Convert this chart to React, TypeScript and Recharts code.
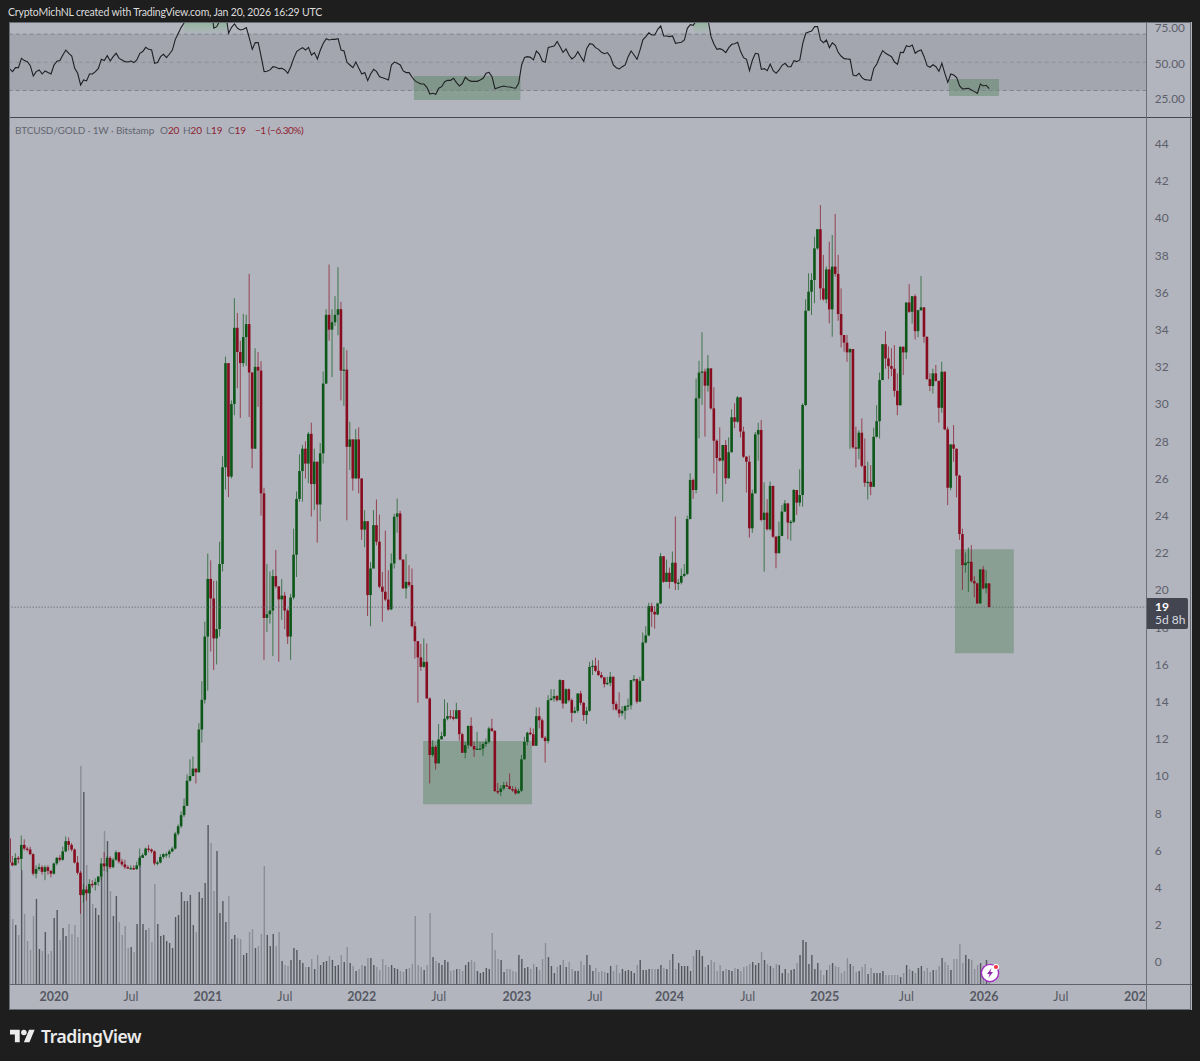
import React from "react";
import { ComposedChart, Bar, Line, XAxis, YAxis, ReferenceArea, ReferenceLine } from "recharts";

const firstOpen = 6.65;
const closes = [
5.35,5.2,5.6,5.55,6.3,6.1,6.05,5.8,4.75,5.0,
5.1,4.85,5.1,4.9,4.75,5.3,5.6,5.5,5.95,6.5,
6.3,6.05,5.35,4.8,3.6,3.9,3.7,4.2,4.15,4.3,
4.6,5.3,5.15,5.6,5.1,5.5,5.9,5.4,5.25,5.1,
5.05,5.05,5.0,5.2,5.6,5.75,6.1,6.05,5.95,5.3,
5.35,5.65,5.8,5.8,5.95,6.1,6.9,7.3,7.9,8.4,
9.75,10.0,10.4,10.2,12.5,14.1,17.5,20.6,19.55,17.4,
17.9,21.4,26.6,32.2,26.1,30.0,34.1,32.8,32.2,33.6,
34.3,31.7,27.6,32.0,31.8,25.2,18.5,18.7,18.9,20.75,
20.2,19.5,19.7,18.9,17.5,19.6,21.9,24.9,26.4,27.6,
26.8,28.4,25.7,26.9,24.6,27.35,31.1,34.8,34.0,34.4,
34.8,35.1,31.8,31.85,27.7,28.1,26.0,28.1,26.0,23.25,
23.7,19.73,21.16,23.49,22.6,20.18,19.91,19.49,18.96,21.43,
23.94,24.12,21.64,20.09,20.44,20.27,18.06,17.25,16.38,15.87,
16.14,14.17,11.13,11.57,10.68,11.97,12.15,13.08,13.22,13.18,
13.08,13.54,12.25,11.25,11.66,12.7,11.61,11.43,11.47,11.48,
11.72,11.84,12.56,12.43,9.19,9.15,9.33,9.51,9.46,9.3,
9.28,9.07,9.21,10.9,11.84,12.33,12.25,11.63,13.22,13.0,
12.06,11.88,14.08,14.17,14.3,14.08,15.16,13.9,14.67,14.08,
13.4,13.51,14.44,13.94,13.28,13.51,15.87,15.93,15.66,15.43,
15.3,14.94,15.01,15.34,13.87,13.58,13.37,13.51,13.76,13.8,
15.16,15.21,14.0,15.12,17.18,17.56,19.14,18.83,18.69,19.28,
21.82,20.44,20.93,20.44,21.47,20.36,20.4,20.76,20.87,23.82,
25.92,25.38,30.31,31.69,31.75,30.99,31.92,29.77,28.03,27.1,
26.96,27.8,26.01,27.41,29.29,29.05,30.36,28.52,27.17,26.9,
23.32,25.2,28.37,28.61,23.77,24.16,23.27,25.6,22.87,21.98,
22.91,24.22,24.66,23.63,23.67,25.38,24.7,25.11,29.95,35.02,
36.04,36.67,38.37,39.4,36.22,35.63,37.24,35.09,37.39,37.0,
34.84,33.71,33.3,32.78,32.96,27.67,27.6,28.46,26.68,25.77,
25.82,25.55,28.24,29.08,31.29,33.22,32.45,32.04,31.9,30.71,
29.94,33.08,32.78,35.46,34.96,35.8,33.92,35.05,35.2,33.62,
31.34,30.97,31.65,31.25,29.8,31.74,28.64,25.5,27.83,27.6,
26.15,23.01,21.34,21.47,21.52,20.48,20.36,19.28,21.11,20.09,
20.36,19.08];
const highs = [
6.7,5.7,5.85,5.7,6.8,6.6,6.2,6.2,5.85,5.2,
5.3,5.2,5.2,5.2,4.95,5.35,5.65,5.75,6.2,6.75,
6.7,6.4,6.1,5.7,4.9,4.2,4.1,4.45,4.4,4.5,
4.6,5.6,5.9,5.7,5.7,5.6,6.0,5.9,5.55,5.5,
5.2,5.2,5.2,5.4,6.1,5.85,6.15,6.3,6.1,6.0,
5.45,5.8,5.85,5.9,6.05,6.2,7.0,7.4,8.1,8.8,
10.1,10.9,11.05,10.4,12.85,15.1,18.3,21.96,21.6,20.5,
20.5,22.6,27.2,32.55,32.2,30.2,35.7,34.9,33.4,34.85,
34.8,37.0,31.7,33,32.8,32.3,25.5,21.4,21,21.1,
22.15,20.2,20.6,19.9,19,19.8,23.3,25.3,27.3,27.8,
28,28.5,29,27.6,26.9,27.9,31.75,35.1,37.5,35.1,
35.8,37.35,35.5,33.05,32.9,29.05,28.1,28.65,28.75,26.0,
24.3,23.7,21.5,24.3,24.87,24.06,20.98,23.2,21.07,21.97,
24.1,24.92,24.26,21.64,21.93,21.34,21.16,18.3,17.25,17.1,
17.4,17.13,14.23,11.93,11.66,12.8,12.38,14.13,13.94,13.55,
13.55,13.94,13.54,12.33,11.84,12.7,13.15,11.84,12.38,11.84,
11.84,12.02,12.65,13.08,12.47,9.63,9.51,9.69,9.69,10.14,
9.46,9.42,9.33,11.13,12.11,12.38,12.6,12.56,13.69,13.69,
13.1,12.15,14.35,14.67,14.67,14.35,15.21,15.16,14.71,14.71,
14.17,13.72,14.44,14.58,13.99,13.72,16.14,16.23,16.36,16.23,
15.6,15.34,15.34,15.6,15.34,14.0,14.5,13.76,13.81,14.17,
15.16,15.43,15.25,15.34,17.72,18.06,19.32,19.32,19.14,19.32,
22.0,21.82,21.64,21.21,22.07,23.95,20.6,21.16,21.4,24,
26.28,26.0,31.38,32.33,33.86,31.9,32.64,31.92,30.9,28.1,
28.75,27.8,28.07,28.2,29.72,30.04,30.43,30.36,28.79,27.2,
27.23,25.4,28.5,29,29.14,25.79,24.88,25.83,25.6,22.9,
23.68,24.57,24.84,24.66,23.77,25.43,25.38,26.49,30.04,35.63,
37.03,37.03,39,39.4,40.7,38.02,37.4,38.73,39.09,40.22,
38.02,36.22,33.71,33.71,33,32.96,28.78,28.6,29.23,28.15,
26.9,26.72,28.73,29.94,31.7,33.22,33.92,33.1,33,33.17,
31.65,33.1,33.1,35.46,36.45,35.8,35.91,35.05,36.88,35.2,
33.62,31.66,31.9,32.1,31.25,32.27,31.74,28.78,27.83,28.87,
27.6,26.2,23.3,22.02,22.29,22.42,20.75,20.4,21.11,21.29,
21.07,20.25];
const lows = [
5.2,5.15,5.2,5.3,4.95,6.0,5.95,5.75,4.65,4.5,
4.9,4.7,4.4,4.7,4.55,4.7,5.2,5.4,5.45,5.9,
6.0,5.95,5.3,4.7,2.6,3.2,3.3,3.75,4.0,3.85,
4.1,4.4,4.9,4.85,5.0,5.05,5.45,5.3,5.15,5.0,
5.0,5.0,4.95,4.95,5.1,5.6,5.7,5.9,5.85,5.2,
5.2,5.3,5.55,5.6,5.6,5.9,6.05,6.8,7.2,7.8,
8.5,9.7,10.2,9.6,10.2,11.8,13.9,14.6,16.7,15.7,
16,17.5,21,25.4,25,26,29.4,30.85,29.25,32,
32.05,29.3,26.55,27.6,29.85,24,16.25,17.75,18.2,16.45,
20.1,16.15,18.4,17.9,17.1,16.25,19.5,20.7,24.75,24.75,
26,25.75,23.95,24.3,22.55,23.7,26.8,31.1,33.4,31.45,
34.2,33.7,30.2,29.9,23.75,26.45,25.35,26,25.2,22.7,
22.3,18.6,18.05,22.27,22.4,20.1,18.3,19.4,18.88,18.92,
21.16,23.08,21.6,20.08,19.55,20.17,18,16.32,13.94,15.65,
15.82,14.17,9.6,11.03,10.35,10.68,11.97,12.1,13,13.05,
13,13.08,11.9,11.25,10.95,11.48,11.57,11.03,11.43,11.43,
11.09,11.57,11.75,12.38,9.15,9.03,8.92,9.24,9.42,9.28,
9.15,9,9.12,9.15,10.95,11.66,12.2,11.63,11.63,12.56,
12.02,10.73,11.75,14.08,14,14,14.17,13.63,13.9,13.99,
12.9,13.36,13.4,13.81,12.97,12.8,13.46,15.43,15.6,15.39,
15.25,14.76,14.89,14.83,13.54,13.51,13.15,13.22,13.04,13.54,
13.58,15.07,13.9,13.99,15.16,17.13,17.52,18.02,17.93,18.65,
19.24,20.39,20.44,20.08,20.45,20,20,20.3,20.7,20.8,
23.8,24.9,25.2,28.16,29.95,28.25,30.67,29.7,26.28,25.17,
26.9,24.75,25.7,26,27.4,28.7,29,28.2,27.1,25.24,
22.82,23.08,25.2,26.96,23.7,20.99,23.2,23.2,22.8,21.17,
22.3,22.9,24.2,22.73,22.66,23.6,24.04,24.5,24.48,29.9,
35.02,34.79,35.42,38.3,35.6,35.56,35.42,34.34,33.62,36.85,
34.48,33.05,32.82,32.27,27.6,27.6,26.59,27.04,26.6,25.55,
24.87,25.1,25.55,28.2,28.15,31.29,31.9,31.34,31.5,30.4,
29.4,29.9,31.56,32.42,34.9,34.33,33.47,33.6,35,33.3,
31.3,30.7,30.57,31.2,29,29.53,28.6,24.57,25.37,26.9,
24.98,22.7,20,20.93,19.9,20.4,19.6,19.25,19.3,20.03,
19.82,19.08];
const volumes = [
114,65,59,49,114,70,43,34,68,85,
35,33,52,30,33,66,74,44,56,48,
60,50,59,47,218,192,119,98,80,76,
69,110,153,143,93,68,88,62,49,58,
36,37,32,60,128,60,54,56,42,100,
60,48,49,43,41,36,67,69,92,83,
83,89,59,52,92,86,101,159,141,93,
133,71,83,62,88,45,49,46,45,29,
31,52,55,36,38,
50,118,49,38,50,38,52,23,19,18,
24,36,34,24,21,17,17,25,15,29,
19,22,23,28,24,18,19,29,22,37,
21,18,13,15,19,18,26,26,19,17,
14,25,19,17,19,16,15,13,12,15,
16,20,68,19,17,14,19,71,27,23,
21,19,24,22,13,14,15,15,13,19,
22,24,22,13,11,12,16,15,51,34,
25,24,12,15,15,13,12,29,25,16,
17,15,20,17,14,25,41,27,18,11,
17,19,24,17,22,15,13,13,23,19,
29,19,13,16,12,13,12,11,18,13,
19,11,15,13,14,13,11,19,24,14,
14,15,15,15,15,19,16,15,24,30,
15,21,18,18,18,13,28,34,34,28,
17,19,24,22,13,19,13,15,14,13,
16,15,13,17,18,20,22,19,21,32,
24,20,18,16,20,19,11,15,11,14,
15,21,29,44,42,20,29,15,21,14,
9,14,19,21,18,17,11,13,26,20,
18,12,13,17,20,10,16,11,11,11,
13,9,9,9,9,9,7,11,19,15,
13,11,16,18,13,16,12,14,14,18,
26,22,19,14,25,25,40,21,29,25,
24,15,19,21,18,24,12];
const rsi = [
45.3,43.4,46.2,46.2,52.8,51.2,50.5,47.6,40.3,43.4,
44.6,41.7,43.9,42.7,41.7,48.1,50.7,51.2,55.2,58.7,
56.4,54.5,45.7,42.2,33.9,37.5,36.8,41.7,41.7,43.4,
45.7,52.1,51.2,54.7,50.9,54,56.4,52.8,51.7,50.5,
50.2,50.9,49.8,51.7,56.4,57.6,60.6,59.2,58.7,49.3,
49.8,54,55.7,53.3,55.9,58.7,66.3,70.6,74.8,78.1,
81,83,85,84,88,91,93,94,91,74.3,
75.3,79.5,83.6,84.8,70.6,74.8,77.2,74.1,72.9,73.4,
74.6,67.2,59.2,64,64,54,43.4,43.6,44.6,46.9,
46.5,45.5,45.7,44.6,42.2,46.9,52.8,57.6,59.2,60.4,
58.7,60.6,55.2,56.9,52.4,58.7,63.5,66.8,65.8,66.3,
66.3,66.8,58.7,58,50,48.1,46.2,50.2,45.7,41.7,
42.7,37,41.7,45,43.4,39.8,39.1,38.4,37.5,48.1,
50.2,49.3,48.1,43.9,42.7,42.7,39.4,36.8,35.6,34.6,
34.6,32.3,27.5,28,27.3,31.6,32.7,36.3,37.2,37.2,
38.7,35.6,33.2,35.1,39.4,37.5,36.5,36.5,36.5,37.5,
38.7,42.2,42.9,39.8,31.3,32,32.7,33.2,32.7,32.5,
32,31.6,35.1,48.1,53.5,54,53.5,51.7,58,55.9,
50.9,50,60.6,61.1,61.6,64.7,61.1,57.1,59.5,55.2,
52.4,54,57.6,54,50.7,59.9,63.2,62.8,60.4,59.2,
57.1,56.1,56.9,54,48.1,46.2,45.3,46.9,48.1,54,
58,55.2,52.1,58.7,66.1,68.2,71,69.4,69.4,73.4,
75.8,68.7,68.7,68.2,68.7,63.5,63.9,64.2,65.8,74.1,
76.7,76.2,79.6,82.4,82.9,82.4,80,68.2,62.8,59.2,
59.7,58.7,56.9,60.4,62.8,63.2,64.2,57.6,53.3,52.1,
44.1,51.7,56.4,55.9,45,45.5,44.1,48.8,44.1,42.2,
44.6,47.9,49.3,46.9,46.9,51.2,50.5,51.7,63.5,70.6,
71.5,72.2,75.3,75.3,65.8,63.9,65.8,60.4,63.9,62.1,
56.9,54.3,52.6,52.4,52.1,41,40.3,42.2,39.1,37.7,
37.5,37.2,45.7,48.8,54,58.3,56.4,55.2,54,50.2,
48.6,57.1,56.9,61.8,61.1,62.3,56.4,58,58.7,54,
47.6,46.5,48.3,46.9,43.6,49.3,42.2,35.8,41.7,41,
39.1,33.2,31.1,31.3,31.6,30.4,29.2,28,34.6,33.2,
33.7,31.3];

const timeTicks = [15, 41, 67, 93, 119, 145, 171.4, 197.8, 223, 249.4, 275.4, 303, 329.2, 355.2, 380.2];
const timeLabels = ["2020", "Jul", "2021", "Jul", "2022", "Jul", "2023", "Jul", "2024", "Jul", "2025", "Jul", "2026", "Jul", "202"];
const priceTicks = [0, 2, 4, 6, 8, 10, 12, 14, 16, 18, 20, 22, 24, 26, 28, 30, 32, 34, 36, 38, 40, 42, 44];
const rsiTicks = [25, 50, 75];
const lastPrice = 19.08;

const rows = closes.map((close, i) => {
  const open = i === 0 ? firstOpen : closes[i - 1];
  const high = Math.max(highs[i], open, close);
  const low = Math.min(lows[i], open, close);
  return { i, open, close, high, low, range: [low, high], volume: volumes[i] ?? 0, rsi: rsi[i] };
});

const UP = "#0c5718";
const DOWN = "#870c1f";
const FONT = 'Lato, "Noto Sans", sans-serif';
const XDOMAIN: [number, number] = [-0.2, 384.2];

function Candle(props: any) {
  const { x, y, width, height, payload } = props;
  if (!payload) return null;
  const cx = x + width / 2;
  const span = Math.max(payload.high - payload.low, 0.0001);
  const k = height / span;
  const yo = y + (payload.high - payload.open) * k;
  const yc = y + (payload.high - payload.close) * k;
  const up = payload.close >= payload.open;
  const color = up ? UP : DOWN;
  const top = Math.min(yo, yc);
  const h = Math.max(Math.abs(yo - yc), 1.3);
  return (
    <g>
      <line x1={cx} x2={cx} y1={y} y2={y + height} stroke={color} strokeWidth={1} opacity={0.68} />
      <rect x={cx - 1.3} y={top} width={2.6} height={h} fill={color} />
    </g>
  );
}

function VolumeBar(props: any) {
  const { x, y, width, height, payload } = props;
  if (!payload) return null;
  const up = payload.close >= payload.open;
  return <rect x={x} y={y} width={width} height={height} fill={up ? "#55575f" : "#8b8d97"} />;
}

function TimeTick(props: any) {
  const { x, y, index } = props;
  const label = timeLabels[index] ?? "";
  const bold = label !== "Jul";
  return (
    <text x={x} y={y + 9} textAnchor="middle" fontFamily={FONT} fontSize={12.5} fontWeight={bold ? 700 : 400} fill="#565963">
      {label}
    </text>
  );
}

const absText = (left: number, top: number, color: string, size = 10, spacing = -0.1): React.CSSProperties => ({
  position: "absolute",
  left,
  top,
  color,
  fontSize: size,
  lineHeight: "14px",
  letterSpacing: spacing,
  fontFamily: FONT,
  whiteSpace: "nowrap",
});

export default function App() {
  const legendGrey = "#62656f";
  const legendRed = "#8e2130";
  return (
    <div style={{ position: "absolute", left: 0, top: 0, width: 1200, height: 1061, background: "#1e1e1e", overflow: "hidden" }}>
      <div style={absText(8, 5, "#dcdcdc", 10.5, -0.18)}>CryptoMichNL created with TradingView.com, Jan 20, 2026 16:29 UTC</div>
      <div style={{ position: "absolute", left: 9, top: 22, width: 1182.7, height: 988, background: "#b2b5be" }} />

      <div style={{ position: "absolute", left: 9, top: 22 }}>
        <ComposedChart width={1182.7} height={95} data={rows} margin={{ top: 0, right: 0, bottom: 0, left: 0 }}>
          <defs>
            <linearGradient id="ob" x1="0" y1="0" x2="0" y2="1">
              <stop offset="0%" stopColor="#4caf50" stopOpacity={0.32} />
              <stop offset="100%" stopColor="#4caf50" stopOpacity={0} />
            </linearGradient>
          </defs>
          <XAxis dataKey="i" type="number" xAxisId="x" domain={XDOMAIN} hide allowDataOverflow />
          <YAxis yAxisId="r" orientation="right" width={45} domain={[11.2, 78.6]} ticks={rsiTicks} allowDataOverflow
            tickFormatter={(v: number) => v.toFixed(2)} tick={{ fill: "#5d606b", fontSize: 11.8, fontFamily: FONT, dy: 1 }}
            axisLine={false} tickLine={false} tickSize={0} tickMargin={8} interval={0} />
          <ReferenceArea xAxisId="x" yAxisId="r" y1={30} y2={70} fill="#a3a5af" fillOpacity={1} stroke="none" />
          <ReferenceArea xAxisId="x" yAxisId="r" x1={59} x2={73.8} y1={70} y2={78.6} fill="url(#ob)" fillOpacity={1} stroke="none" />
          <ReferenceArea xAxisId="x" yAxisId="r" x1={231} x2={236} y1={70} y2={78.6} fill="url(#ob)" fillOpacity={1} stroke="none" />
          <ReferenceLine xAxisId="x" yAxisId="r" y={70} stroke="#80838d" strokeDasharray="4 3" />
          <ReferenceLine xAxisId="x" yAxisId="r" y={50} stroke="#8f919b" strokeDasharray="4 3" />
          <ReferenceLine xAxisId="x" yAxisId="r" y={30} stroke="#80838d" strokeDasharray="4 3" />
          <ReferenceArea xAxisId="x" yAxisId="r" x1={136.6} x2={172.6} y1={23.3} y2={40.3} fill="#4c8054" fillOpacity={0.4} stroke="none" />
          <ReferenceArea xAxisId="x" yAxisId="r" x1={317.4} x2={334.3} y1={26.1} y2={38.2} fill="#4c8054" fillOpacity={0.4} stroke="none" />
          <Line xAxisId="x" yAxisId="r" dataKey="rsi" type="linear" dot={false} stroke="#1f2024" strokeWidth={1.1} isAnimationActive={false} />
        </ComposedChart>
      </div>

      <div style={{ position: "absolute", left: 9, top: 118 }}>
        <ComposedChart width={1182.7} height={892} data={rows} margin={{ top: 0, right: 0, bottom: 0, left: 0 }}>
          <XAxis dataKey="i" type="number" xAxisId="x" domain={XDOMAIN} ticks={timeTicks} interval={0} height={26} allowDataOverflow
            axisLine={false} tickLine={false} tick={<TimeTick />} />
          <XAxis dataKey="i" type="number" xAxisId="v" orientation="top" height={0} domain={XDOMAIN} hide allowDataOverflow />
          <YAxis yAxisId="p" orientation="right" width={45} domain={[-1.18, 45.38]} ticks={priceTicks} interval={0} allowDataOverflow
            tick={{ fill: "#5d606b", fontSize: 12, fontFamily: FONT }} axisLine={false} tickLine={false} tickSize={0} tickMargin={8} />
          <YAxis yAxisId="vol" hide domain={[0, 866]} allowDataOverflow />
          <Bar xAxisId="v" yAxisId="vol" dataKey="volume" barSize={1.4} shape={<VolumeBar />} isAnimationActive={false} />
          <ReferenceArea xAxisId="x" yAxisId="p" x1={139.7} x2={176.5} y1={8.49} y2={11.88} fill="#4c8054" fillOpacity={0.4} stroke="none" />
          <ReferenceArea xAxisId="x" yAxisId="p" x1={319.4} x2={339.3} y1={16.6} y2={22.2} fill="#4c8054" fillOpacity={0.4} stroke="none" />
          <ReferenceLine xAxisId="x" yAxisId="p" y={lastPrice} stroke="#5a5d66" strokeDasharray="1 2" />
          <Bar xAxisId="x" yAxisId="p" dataKey="range" barSize={3} shape={<Candle />} isAnimationActive={false} />
        </ComposedChart>
      </div>

      {/* pane separators and frame */}
      <div style={{ position: "absolute", left: 9, top: 117, width: 1182.7, height: 1, background: "#45474f" }} />
      <div style={{ position: "absolute", left: 9, top: 984, width: 1182.7, height: 1, background: "#5f616b" }} />
      <div style={{ position: "absolute", left: 1146.2, top: 22, width: 1, height: 988, background: "#6b6d77" }} />
      <div style={{ position: "absolute", left: 8.5, top: 21.5, width: 1182.7, height: 988.5, border: "1px solid #6a6c76", boxSizing: "border-box" as const }} />

      {/* legend */}
      <div style={absText(15, 123, legendGrey)}>BTCUSD/GOLD · 1W · Bitstamp</div>
      <div style={absText(160, 123, legendGrey)}>O<span style={{ color: legendRed }}>20</span></div>
      <div style={absText(183, 123, legendGrey)}>H<span style={{ color: legendRed }}>20</span></div>
      <div style={absText(206, 123, legendGrey)}>L<span style={{ color: legendRed }}>19</span></div>
      <div style={absText(228, 123, legendGrey)}>C<span style={{ color: legendRed }}>19</span></div>
      <div style={absText(255, 123, legendRed, 10, -0.45)}>−1 (−6.30%)</div>

      {/* last price tag */}
      <div style={{ position: "absolute", left: 1147, top: 598, width: 41, height: 31, background: "#434651", borderRadius: "0 2px 2px 0" }} />
      <div style={{ ...absText(1155, 600, "#ffffff", 12, 0), fontWeight: 700 }}>19</div>
      <div style={absText(1155, 613, "#d9dae0", 12, 0)}>5d 8h</div>

      {/* badge */}
      <svg style={{ position: "absolute", left: 978, top: 961 }} width={26} height={24}>
        <circle cx={12} cy={12} r={8.6} fill="#ffffff" stroke="#a32cc4" strokeWidth={1.4} />
        <path d="M13.5 7 L9 13 L11.6 13 L10.4 17 L15 11 L12.4 11 Z" fill="#8e24aa" />
        <circle cx={18} cy={6} r={3} fill="#ffffff" />
        <circle cx={18} cy={6} r={2.1} fill="#f23645" />
      </svg>

      {/* logo */}
      <svg style={{ position: "absolute", left: 10, top: 1029 }} width={25} height={14} viewBox="0 4 36 18">
        <path d="M14 22H7V11H0V4h14v18zM28 22h-8l7.5-18h8L28 22z" fill="#ececec" />
        <circle cx={20} cy={8} r={4} fill="#ececec" />
      </svg>
      <div style={{ ...absText(41, 1027, "#ececec", 17.5, -0.45), fontFamily: '"Noto Sans", sans-serif', lineHeight: "18px", fontWeight: 600 }}>TradingView</div>
    </div>
  );
}
